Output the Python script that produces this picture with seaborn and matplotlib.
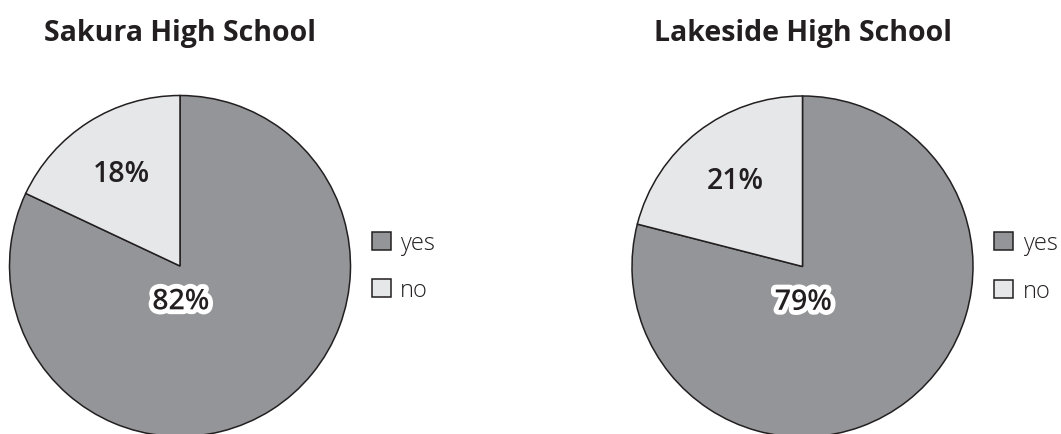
import numpy as np
import matplotlib
matplotlib.use("Agg")
import matplotlib.pyplot as plt
import matplotlib.patheffects as pe
import seaborn as sns

# data
schools = ["Sakura High School", "Lakeside High School"]
categories = ["yes", "no"]
sakura_pct = [82, 18]
lakeside_pct = [79, 21]

sns.set_theme(style="white")
plt.rcParams['font.family'] = ['Open Sans', 'DejaVu Sans']

W, H = 1061, 435
colors = ["#939598", "#e6e7e8"]
edge = "#231f20"
text_c = "#231f20"

fig = plt.figure(figsize=(W / 100, H / 100), dpi=100)
fig.patch.set_facecolor("white")

# pie centres and radius in pixels (layout only)
centres = [(180, 267), (802.5, 267.5)]
R = 170.5


def draw(ax, title, values):
    wedges, _ = ax.pie(values, colors=colors, startangle=90, counterclock=False,
                       wedgeprops=dict(edgecolor=edge, linewidth=1.1))
    for w in wedges:
        w.set_clip_on(False)
    ax.set_xlim(-1, 1)
    ax.set_ylim(-1, 1)
    ax.set_aspect("equal")
    ax.axis("off")

    total = float(sum(values))
    # small slice label at its mid-angle
    end_yes = 90 - 360 * values[0] / total
    mid = np.deg2rad(end_yes - 180 * values[1] / total)
    ax.text(0.64 * np.cos(mid), 0.64 * np.sin(mid), f"{values[1]}%",
            ha="center", va="center", fontsize=20.5, fontweight="semibold",
            color=text_c)
    # big slice label just below centre with white halo
    ax.text(0.005, -0.21, f"{values[0]}%", ha="center", va="center",
            fontsize=20.5, fontweight="semibold", color=text_c,
            path_effects=[pe.withStroke(linewidth=7, foreground="white")])

    ax.set_title(title, fontsize=20.5, fontweight="bold", color=text_c, pad=40)

    ax.legend(wedges, categories, loc="upper left",
              bbox_to_anchor=(1.063, 0.603), frameon=False,
              handlelength=0.8, handleheight=0.8,
              handletextpad=0.4, labelspacing=1.0, borderaxespad=0,
              borderpad=0,
              prop=dict(family=['Open Sans', 'DejaVu Sans'], size=17, weight='light'),
              labelcolor=text_c)


for (cx, cy), title, vals in zip(centres, schools, [sakura_pct, lakeside_pct]):
    ax = fig.add_axes([(cx - R) / W, (H - cy - R) / H, 2 * R / W, 2 * R / H])
    draw(ax, title, vals)

fig.savefig("out.png", dpi=100, facecolor="white")
